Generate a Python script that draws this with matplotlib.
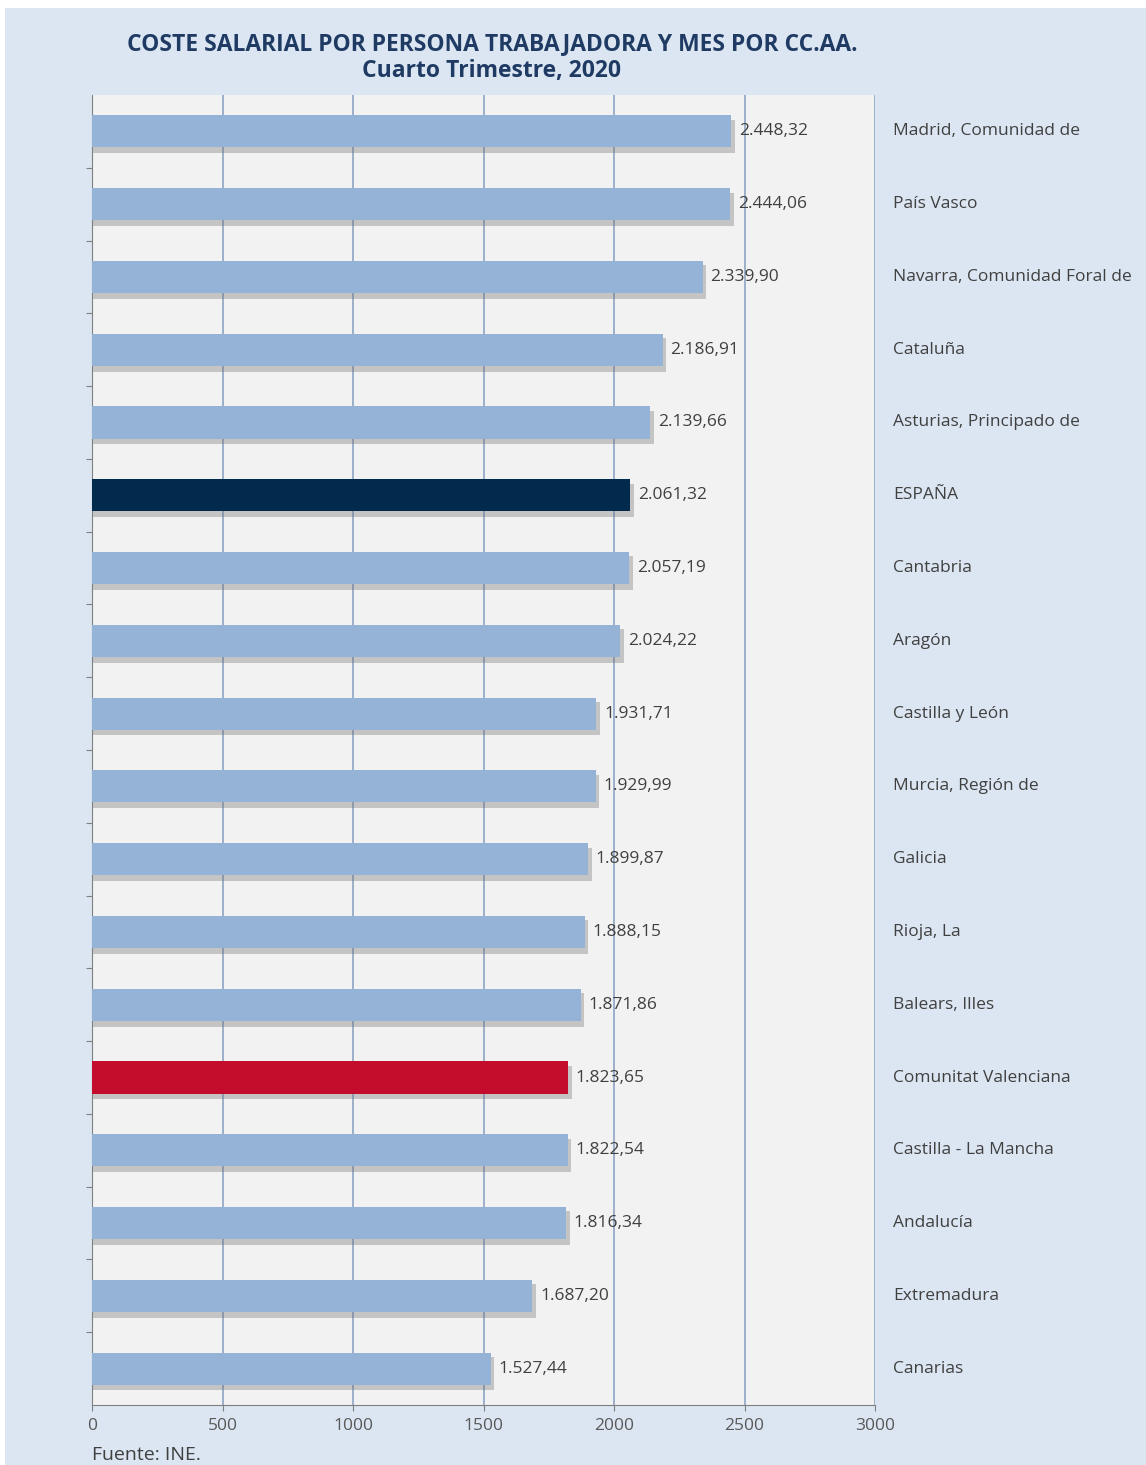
import matplotlib
matplotlib.use("Agg")
import matplotlib.pyplot as plt
from matplotlib.patches import Rectangle

plt.rcParams["font.family"] = ["Open Sans", "DejaVu Sans"]

regions = ["Madrid, Comunidad de", "País Vasco", "Navarra, Comunidad Foral de",
           "Cataluña", "Asturias, Principado de", "ESPAÑA", "Cantabria", "Aragón",
           "Castilla y León", "Murcia, Región de", "Galicia", "Rioja, La",
           "Balears, Illes", "Comunitat Valenciana", "Castilla - La Mancha",
           "Andalucía", "Extremadura", "Canarias"]
values = [2448.32, 2444.06, 2339.90, 2186.91, 2139.66, 2061.32, 2057.19, 2024.22,
          1931.71, 1929.99, 1899.87, 1888.15, 1871.86, 1823.65, 1822.54,
          1816.34, 1687.20, 1527.44]
highlight = {"ESPAÑA": "#022a4c", "Comunitat Valenciana": "#c40d2c"}
xticks = [0, 500, 1000, 1500, 2000, 2500, 3000]


def es_fmt(v):
    s = f"{v:,.2f}"
    return s.replace(",", "X").replace(".", ",").replace("X", ".")


W, H = 1146, 1465
fig = plt.figure(figsize=(W / 100, H / 100), dpi=100)
fig.patch.set_facecolor("white")
fig.add_artist(Rectangle((5 / W, 0), 1 - 5 / W, 1 - 8 / H, transform=fig.transFigure,
                         facecolor="#dce6f2", edgecolor="none", zorder=-10))

ax = fig.add_axes([92 / W, 1 - 1405 / H, (875 - 92) / W, (1405 - 95) / H])
ax.set_facecolor("#f2f2f2")

ypos = list(range(len(regions)))
colors = [highlight.get(r, "#95b3d7") for r in regions]
bh = 0.44
# soft shadow under each bar
ax.barh([y + 0.07 for y in ypos], [v + 14 for v in values], height=bh + 0.02,
        color="#6f6f6f", alpha=0.35, zorder=2)
ax.barh(ypos, values, height=bh, color=colors, zorder=3)

for y, v in zip(ypos, values):
    ax.text(v + 30, y, es_fmt(v), va="center", ha="left", fontsize=12.5,
            color="#404040", zorder=4)

ax.set_ylim(len(regions) - 0.5, -0.5)
ax.set_xlim(0, 3000)
ax.set_xticks(xticks)
ax.set_xticklabels([str(t) for t in xticks], fontsize=12.5, color="#595959")
ax.xaxis.grid(True, color="#8ea4c2", linewidth=1.2, zorder=1)
ax.set_axisbelow(True)

ax.set_yticks([y + 0.5 for y in ypos[:-1]], minor=False)
ax.set_yticklabels([])
ax.tick_params(axis="y", length=4, color="#808080", direction="out")
ax.tick_params(axis="x", length=4, color="#808080", pad=5)

for y, r in zip(ypos, regions):
    ax.text(3000 + 70, y, r, va="center", ha="left", fontsize=12.5,
            color="#404040", clip_on=False)

for s in ["top", "right"]:
    ax.spines[s].set_visible(False)
ax.spines["left"].set_color("#808080")
ax.spines["bottom"].set_color("#808080")

fig.text(492 / W, 1 - 44 / H, "COSTE SALARIAL POR PERSONA TRABAJADORA Y MES POR CC.AA.",
         ha="center", va="center", fontsize=16.5, fontweight="bold", color="#1f3b63")
fig.text(492 / W, 1 - 71 / H, "Cuarto Trimestre, 2020",
         ha="center", va="center", fontsize=16.5, fontweight="bold", color="#1f3b63")
fig.text(92 / W, 1 - 1455 / H, "Fuente: INE.", ha="left", va="center",
         fontsize=14, color="#404040")

fig.savefig("out.png", dpi=100, facecolor=fig.get_facecolor())
